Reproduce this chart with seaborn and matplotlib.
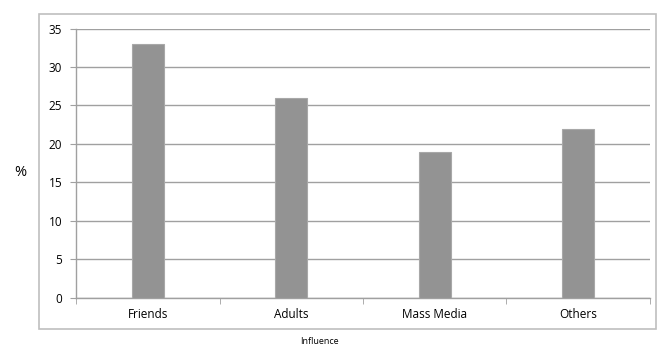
import matplotlib.pyplot as plt
import seaborn as sns
from matplotlib.patches import Rectangle

categories = ["Friends", "Adults", "Mass Media", "Others"]
percent = [33, 26, 19, 22]
y_ticks = [0, 5, 10, 15, 20, 25, 30, 35]

sns.set_style("white")
plt.rcParams["font.family"] = ["Open Sans", "DejaVu Sans"]
plt.rcParams["text.color"] = "black"
plt.rcParams["xtick.color"] = "black"
plt.rcParams["ytick.color"] = "black"

fig = plt.figure(figsize=(6.57, 3.49), dpi=100)
# outer chart frame (Excel style)
fig.patches.append(Rectangle((0.0594, 0.0573), 0.939, 0.9026, transform=fig.transFigure,
                             fill=False, edgecolor="#bfbfbf", lw=1.2, zorder=0))
ax = fig.add_axes([0.1157, 0.147, 0.8736, 0.771])

sns.barplot(x=categories, y=percent, color="#939393", width=0.22,
            edgecolor="#a8a8a8", linewidth=0.8, saturation=1, ax=ax, zorder=3)

ax.set_ylim(0, 35)
ax.set_xlim(-0.5, 3.5)
ax.set_yticks(y_ticks)
ax.yaxis.grid(True, color="#a0a0a0", lw=1.0)
ax.set_axisbelow(True)
for s in ["top", "right"]:
    ax.spines[s].set_visible(False)
for s in ["left", "bottom"]:
    ax.spines[s].set_color("#a0a0a0")
    ax.spines[s].set_linewidth(1.0)

# ticks: y outward on left, x at category boundaries
ax.tick_params(axis="y", left=True, length=4, color="#a0a0a0", labelcolor="black",
               labelsize=8.5, pad=6)
ax.set_xticks(range(len(categories)))
ax.set_xticklabels(categories)
ax.set_xticks([-0.5, 0.5, 1.5, 2.5, 3.5], minor=True)
ax.tick_params(axis="x", which="major", bottom=False, labelcolor="black",
               labelsize=8.5, pad=4)
ax.tick_params(axis="x", which="minor", bottom=True, length=4, color="#a0a0a0")

ax.set_xlabel("")
ax.set_ylabel("")
fig.text(20 / 657, 1 - 172 / 349, "%", fontsize=10.5, ha="center", va="center")
fig.text(319 / 657, 1 - 346 / 349, "Influence", fontsize=6.5, ha="center", va="bottom")

fig.savefig("out.png", dpi=100)
